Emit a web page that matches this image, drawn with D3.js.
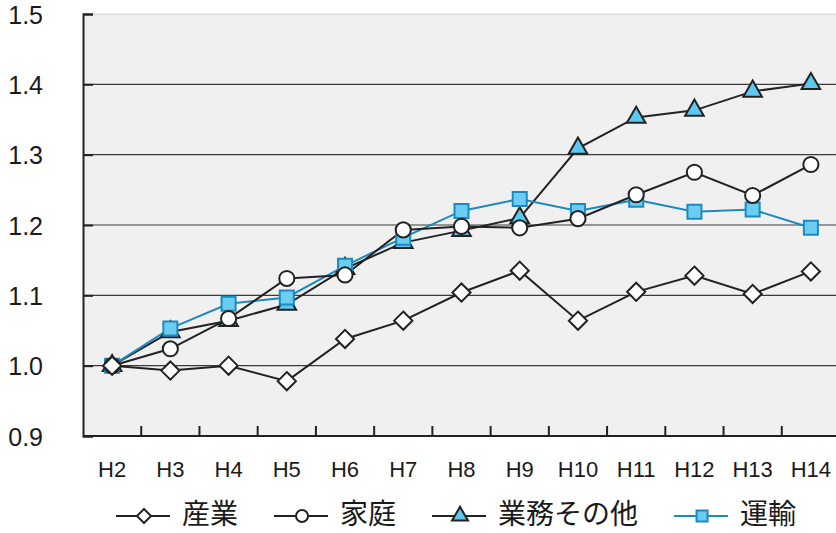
<!DOCTYPE html>
<html>
<head>
<meta charset="utf-8">
<script src="https://cdn.jsdelivr.net/npm/d3@7"></script>
<style>
  body { margin: 0; background: #fff; }
  svg { display: block; font-family: "Noto Sans CJK JP", "Noto Sans", sans-serif; }
</style>
</head>
<body>
<div id="chart"></div>
<script>
// categories (fiscal years)
const years = ["H2", "H3", "H4", "H5", "H6", "H7", "H8", "H9", "H10", "H11", "H12", "H13", "H14"];
const yTicks = [0.9, 1.0, 1.1, 1.2, 1.3, 1.4, 1.5];

// series values (index, H2 = 1.0)
const sangyo  = [1.000, 0.993, 1.000, 0.978, 1.038, 1.064, 1.104, 1.135, 1.064, 1.105, 1.128, 1.102, 1.134];
const katei   = [1.000, 1.024, 1.067, 1.124, 1.129, 1.193, 1.198, 1.196, 1.209, 1.243, 1.275, 1.242, 1.286];
const gyomu   = [1.000, 1.048, 1.064, 1.087, 1.138, 1.175, 1.192, 1.210, 1.309, 1.353, 1.363, 1.390, 1.401];
const unyu    = [1.000, 1.053, 1.088, 1.097, 1.142, 1.182, 1.220, 1.237, 1.220, 1.236, 1.219, 1.222, 1.196];

const seriesNames = ["産業", "家庭", "業務その他", "運輸"];

const width = 836, height = 533;
const margin = { top: 14, right: -4, bottom: 97, left: 83 };
const latin = "'Liberation Sans', Arial, sans-serif";

const svg = d3.select("#chart").append("svg")
    .attr("width", width)
    .attr("height", height);

const x = d3.scalePoint()
    .domain(years)
    .range([margin.left, width - margin.right])
    .padding(0.5);

const y = d3.scaleLinear()
    .domain([0.9, 1.5])
    .range([height - margin.bottom, margin.top]);

// diamond = square turned 45deg (d3's diamond is too tall)
const diamond = {
    draw(context, size) {
        const r = Math.sqrt(size / 2);
        context.moveTo(0, -r);
        context.lineTo(r, 0);
        context.lineTo(0, r);
        context.lineTo(-r, 0);
        context.closePath();
    }
};

// plot background
svg.append("rect")
    .attr("x", margin.left)
    .attr("y", margin.top)
    .attr("width", width - margin.left)
    .attr("height", y(0.9) - margin.top)
    .attr("fill", "#f0f0f0");

svg.append("line")
    .attr("x1", margin.left).attr("x2", width)
    .attr("y1", y(1.5)).attr("y2", y(1.5))
    .attr("stroke", "#d4d4d4").attr("stroke-width", 1);

// gridlines
svg.append("g")
    .selectAll("line")
    .data(yTicks.filter(d => d > 0.9 && d < 1.5))
    .join("line")
    .attr("x1", margin.left).attr("x2", width)
    .attr("y1", d => y(d)).attr("y2", d => y(d))
    .attr("stroke", "#3a3a3a").attr("stroke-width", 1.2);

// y axis (ticks inward)
const yAxis = d3.axisLeft(y)
    .tickValues(yTicks)
    .tickFormat(d3.format(".1f"))
    .tickSize(-10);

const gy = svg.append("g")
    .attr("transform", `translate(${margin.left},0)`)
    .call(yAxis);
gy.select(".domain").attr("stroke", "#222").attr("stroke-width", 2);
gy.selectAll(".tick line").attr("stroke", "#222").attr("stroke-width", 2);
gy.selectAll(".tick text")
    .attr("x", -40)
    .attr("dy", "0.36em")
    .attr("font-size", 25)
    .attr("fill", "#1a1a1a")
    .attr("font-family", latin);

// x axis: ticks at category boundaries, pointing up
const step = x.step();
const boundaries = years.slice(1).map(d => x(d) - step / 2);
const gx = svg.append("g");
gx.append("line")
    .attr("x1", margin.left).attr("x2", width)
    .attr("y1", y(0.9)).attr("y2", y(0.9))
    .attr("stroke", "#222").attr("stroke-width", 2);
gx.selectAll("line.tick")
    .data(boundaries)
    .join("line")
    .attr("class", "tick")
    .attr("x1", d => d).attr("x2", d => d)
    .attr("y1", y(0.9)).attr("y2", y(0.9) - 10)
    .attr("stroke", "#222").attr("stroke-width", 2);
gx.selectAll("text")
    .data(years)
    .join("text")
    .attr("x", d => x(d))
    .attr("y", y(0.9) + 41)
    .attr("text-anchor", "middle")
    .attr("font-size", 22)
    .attr("font-family", latin)
    .attr("fill", "#1a1a1a")
    .text(d => d);

// series styles
const series = [
    { name: "業務その他", values: gyomu, symbol: d3.symbolTriangle, size: 150, legendSize: 110, fill: "#5bc8f0", stroke: "#222", line: "#222" },
    { name: "運輸", values: unyu, symbol: d3.symbolSquare, size: 196, legendSize: 121, fill: "#6ccdf3", stroke: "#1a8ac0", line: "#1a8ac0" },
    { name: "家庭", values: katei, symbol: d3.symbolCircle, size: 180, legendSize: 113, fill: "#fff", stroke: "#222", line: "#222" },
    { name: "産業", values: sangyo, symbol: diamond, size: 165, legendSize: 100, fill: "#fff", stroke: "#222", line: "#222" }
];

const lineGen = d3.line()
    .x((d, i) => x(years[i]))
    .y(d => y(d));

series.forEach(s => {
    svg.append("path")
        .datum(s.values)
        .attr("d", lineGen)
        .attr("fill", "none")
        .attr("stroke", s.line)
        .attr("stroke-width", 2);
});

series.forEach(s => {
    svg.append("g")
        .selectAll("path")
        .data(s.values)
        .join("path")
        .attr("transform", (d, i) => `translate(${x(years[i])},${y(d)})`)
        .attr("d", d3.symbol(s.symbol, s.size))
        .attr("fill", s.fill)
        .attr("stroke", s.stroke)
        .attr("stroke-width", 2);
});

// legend
const legendY = 516;
const legend = svg.append("g");
let lx = 116;
seriesNames.forEach(name => {
    const s = series.find(d => d.name === name);
    const g = legend.append("g").attr("transform", `translate(${lx},${legendY})`);
    g.append("line")
        .attr("x1", 0).attr("x2", 54)
        .attr("stroke", s.line).attr("stroke-width", 2);
    g.append("path")
        .attr("transform", "translate(28,0)")
        .attr("d", d3.symbol(s.symbol, s.legendSize))
        .attr("fill", s.fill)
        .attr("stroke", s.stroke)
        .attr("stroke-width", 2);
    const t = g.append("text")
        .attr("x", 66)
        .attr("y", 8)
        .attr("font-size", 28)
        .attr("fill", "#1a1a1a")
        .text(name);
    lx += 66 + t.node().getComputedTextLength() + 36;
});
</script>
</body>
</html>
